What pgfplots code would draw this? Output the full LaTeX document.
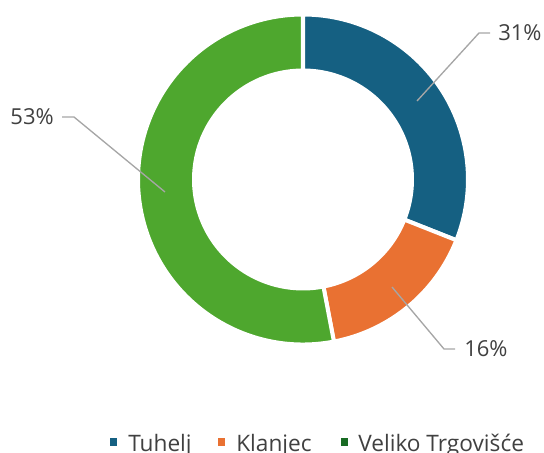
\documentclass[border=0pt]{standalone}
\usepackage{pgfplots}
\pgfplotsset{compat=1.18}
\usepackage{pgfplotstable}
\usepackage{fontspec}
\setmainfont{Open Sans}
\definecolor{cTuhelj}{HTML}{156082}
\definecolor{cKlanjec}{HTML}{E97132}
\definecolor{cVeliko}{HTML}{4EA72E}
\definecolor{cVelikoLeg}{HTML}{196B24}
\definecolor{txt}{HTML}{404040}
\definecolor{lead}{HTML}{A6A6A6}
\pgfplotstableread{
label value
Tuhelj 31
Klanjec 16
Veliko 53
}\piedata
\begin{document}
\begin{tikzpicture}
\pgfplotstablegetelem{0}{value}\of\piedata \pgfmathsetmacro\vA{\pgfplotsretval}
\pgfplotstablegetelem{1}{value}\of\piedata \pgfmathsetmacro\vB{\pgfplotsretval}
\pgfplotstablegetelem{2}{value}\of\piedata \pgfmathsetmacro\vC{\pgfplotsretval}
\pgfmathsetmacro\tot{\vA+\vB+\vC}
\pgfmathsetmacro\aA{90}
\pgfmathsetmacro\aB{\aA-360*(\vA/\tot)}
\pgfmathsetmacro\aC{\aB-360*(\vB/\tot)}
\pgfmathsetmacro\aD{\aC-360*(\vC/\tot)}
\def\Ro{165}\def\Ri{109}
\newcommand\wedgeseg[3]{%
  \fill[#3, draw=white, line width=3pt, line join=round]
    (axis cs:{\Ro*cos(#1)},{\Ro*sin(#1)})
    arc[start angle=#1, end angle=#2, radius=\Ro*0.75pt]
    -- (axis cs:{\Ri*cos(#2)},{\Ri*sin(#2)})
    arc[start angle=#2, end angle=#1, radius=\Ri*0.75pt] -- cycle;}
\begin{axis}[x=0.75pt, y=0.75pt,
  xmin=-303, xmax=241, ymin=-273.5, ymax=179.5,
  hide axis, clip=false]
\wedgeseg{\aA}{\aB}{cTuhelj}
\wedgeseg{\aB}{\aC}{cKlanjec}
\wedgeseg{\aC}{\aD}{cVeliko}
% leader lines and labels
\draw[lead, line width=1pt] (axis cs:114,78.5) -- (axis cs:176,146.5) -- (axis cs:187,146.5);
\node[anchor=west, inner sep=0pt, text=txt, font=\fontsize{16.5}{20}\selectfont] at (axis cs:195,146.5) {31\%};
\draw[lead, line width=1pt] (axis cs:89,-107.5) -- (axis cs:141,-169.5) -- (axis cs:152,-169.5);
\node[anchor=west, inner sep=0pt, text=txt, font=\fontsize{16.5}{20}\selectfont] at (axis cs:161,-169.5) {16\%};
\draw[lead, line width=1pt] (axis cs:-138,-12.5) -- (axis cs:-229,62.5) -- (axis cs:-241,62.5);
\node[anchor=east, inner sep=0pt, text=txt, font=\fontsize{16.5}{20}\selectfont] at (axis cs:-249,62.5) {53\%};
% legend
\fill[cTuhelj] (axis cs:-193,-266.5) rectangle (axis cs:-186,-258.5);
\node[anchor=base west, inner sep=0pt, text=txt, font=\fontsize{17}{20}\selectfont] at (axis cs:-175,-272.5) {Tuhelj};
\fill[cKlanjec] (axis cs:-85,-266.5) rectangle (axis cs:-78,-258.5);
\node[anchor=base west, inner sep=0pt, text=txt, font=\fontsize{17}{20}\selectfont] at (axis cs:-67,-272.5) {Klanjec};
\fill[cVelikoLeg] (axis cs:38,-266.5) rectangle (axis cs:45,-258.5);
\node[anchor=base west, inner sep=0pt, text=txt, font=\fontsize{17}{20}\selectfont] at (axis cs:55,-272.5) {Veliko Trgovišće};
\coordinate (BL) at (axis cs:-303,-273.5);
\coordinate (TR) at (axis cs:241,179.5);
\end{axis}
\pgfresetboundingbox
\path (BL) rectangle (TR);
\end{tikzpicture}
\end{document}
